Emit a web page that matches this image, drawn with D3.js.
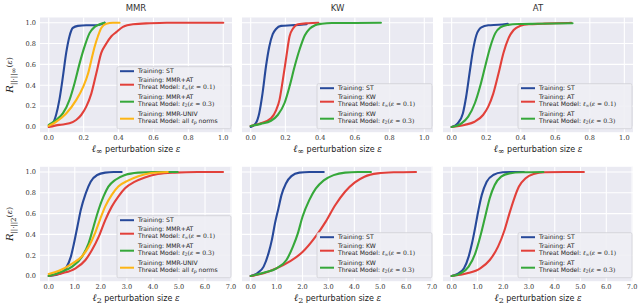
<!DOCTYPE html>
<html>
<head>
<meta charset="utf-8">
<script src="https://cdn.jsdelivr.net/npm/d3@7"></script>
<style>
  body { margin: 0; background: #fff; }
  svg { display: block; }
</style>
</head>
<body>
<svg id="chart" width="640" height="308"></svg>
<script>
// curve points: [epsilon, R]
// top row: l_inf perturbation
const mmrInfST = [[0,0.01],[0.023,0.035],[0.042,0.115],[0.061,0.26],[0.081,0.48],[0.1,0.71],[0.119,0.87],[0.138,0.95],[0.167,0.97],[0.215,0.975],[0.272,0.975],[0.301,0.985],[0.32,1.0]];
const mmrInfAtInf = [[0,0],[0.061,0.02],[0.119,0.035],[0.157,0.067],[0.186,0.115],[0.215,0.195],[0.244,0.32],[0.272,0.51],[0.301,0.71],[0.33,0.8],[0.359,0.87],[0.387,0.91],[0.425,0.96],[0.483,0.985],[0.579,0.995],[0.675,1.0],[1.0,1.0]];
const mmrInfAtL2 = [[0,0.02],[0.042,0.067],[0.081,0.13],[0.119,0.26],[0.148,0.42],[0.177,0.61],[0.205,0.77],[0.234,0.9],[0.263,0.96],[0.292,0.985],[0.32,1.0]];
const mmrInfUniv = [[0,0.01],[0.042,0.05],[0.1,0.13],[0.158,0.26],[0.196,0.38],[0.225,0.51],[0.244,0.64],[0.263,0.77],[0.282,0.87],[0.301,0.95],[0.33,0.99],[0.368,1.0],[0.406,1.0]];

const kwInfST = [[0,0],[0.029,0.035],[0.049,0.13],[0.068,0.32],[0.088,0.58],[0.107,0.77],[0.127,0.89],[0.146,0.94],[0.175,0.97],[0.234,0.975],[0.292,0.98],[0.322,0.985]];
const kwInfKwInf = [[0,0.01],[0.058,0.035],[0.117,0.083],[0.146,0.16],[0.166,0.26],[0.185,0.45],[0.205,0.67],[0.224,0.87],[0.244,0.945],[0.273,0.985],[0.331,0.995],[0.39,1.0]];
const kwInfKwL2 = [[0,0.01],[0.058,0.03],[0.117,0.06],[0.156,0.115],[0.195,0.23],[0.224,0.39],[0.253,0.58],[0.283,0.75],[0.312,0.88],[0.341,0.945],[0.37,0.975],[0.409,0.99],[0.468,0.997],[0.546,0.997],[0.75,1.0]];

const atInfST = [[0,0],[0.035,0.035],[0.065,0.13],[0.084,0.29],[0.104,0.52],[0.124,0.74],[0.143,0.88],[0.172,0.955],[0.212,0.975],[0.271,0.98],[0.325,0.99]];
const atInfAtInf = [[0,0],[0.074,0.02],[0.133,0.05],[0.182,0.115],[0.212,0.195],[0.241,0.32],[0.271,0.51],[0.3,0.71],[0.329,0.85],[0.359,0.93],[0.398,0.97],[0.447,0.985],[0.525,0.99],[0.604,0.995],[0.692,0.998]];
const atInfAtL2 = [[0,0],[0.057,0.035],[0.096,0.1],[0.135,0.23],[0.165,0.39],[0.194,0.58],[0.224,0.77],[0.253,0.9],[0.282,0.955],[0.322,0.978],[0.39,0.987],[0.488,0.99],[0.7,0.995]];

// bottom row: l_2 perturbation
const mmrL2ST = [[0,0],[0.47,0.026],[0.66,0.074],[0.85,0.186],[0.97,0.314],[1.1,0.474],[1.23,0.635],[1.42,0.795],[1.61,0.907],[1.86,0.971],[2.17,0.994],[2.49,1.0],[2.8,1.0]];
const mmrL2AtInf = [[0,0],[0.51,0.026],[1.03,0.074],[1.41,0.154],[1.66,0.25],[1.92,0.378],[2.17,0.538],[2.42,0.667],[2.67,0.763],[2.93,0.843],[3.31,0.907],[3.69,0.948],[4.19,0.98],[4.83,0.994],[5.71,1.0],[6.69,1.0]];
const mmrL2AtL2 = [[0,0],[0.39,0.032],[0.9,0.09],[1.28,0.186],[1.53,0.314],[1.72,0.474],[1.91,0.635],[2.1,0.763],[2.29,0.859],[2.55,0.923],[2.93,0.971],[3.43,0.994],[4.07,1.0],[4.95,1.0]];
const mmrL2Univ = [[0,0.02],[0.39,0.05],[0.9,0.12],[1.28,0.19],[1.53,0.28],[1.79,0.42],[1.98,0.55],[2.17,0.67],[2.42,0.78],[2.67,0.86],[3.06,0.92],[3.44,0.96],[3.94,0.99],[4.57,1.0]];

const kwL2ST = [[0,0],[0.25,0.026],[0.5,0.09],[0.69,0.22],[0.82,0.35],[0.94,0.51],[1.07,0.65],[1.19,0.78],[1.36,0.89],[1.57,0.96],[1.88,0.994],[2.26,1.0],[2.82,1.0]];
const kwL2KwInf = [[0,0],[0.5,0.026],[1.0,0.074],[1.51,0.14],[2.0,0.23],[2.51,0.38],[2.89,0.52],[3.26,0.68],[3.64,0.81],[4.02,0.9],[4.39,0.955],[4.9,0.987],[5.52,0.997],[6.38,1.0]];
const kwL2KwL2 = [[0,0],[0.5,0.032],[1.0,0.074],[1.38,0.154],[1.63,0.282],[1.82,0.41],[2.0,0.57],[2.26,0.73],[2.51,0.84],[2.82,0.92],[3.2,0.97],[3.64,0.994],[4.14,1.0],[4.64,1.0]];

const atL2ST = [[0,0],[0.23,0.02],[0.48,0.074],[0.66,0.186],[0.79,0.314],[0.92,0.474],[1.04,0.635],[1.17,0.78],[1.36,0.907],[1.61,0.971],[1.98,0.997],[2.36,1.0],[2.8,1.0]];
const atL2AtInf = [[0,0],[0.6,0.026],[1.11,0.074],[1.48,0.154],[1.8,0.282],[2.05,0.44],[2.24,0.6],[2.43,0.747],[2.61,0.86],[2.87,0.94],[3.18,0.98],[3.62,0.997],[4.37,1.0],[5.13,1.0]];
const atL2AtL2 = [[0,0],[0.35,0.026],[0.66,0.09],[0.92,0.22],[1.11,0.38],[1.3,0.57],[1.48,0.75],[1.67,0.875],[1.92,0.955],[2.24,0.987],[2.74,0.997],[3.56,1.0]];

const panelTitles = ["MMR", "KW", "AT"];
const yTicks = [0, 0.2, 0.4, 0.6, 0.8, 1.0];
const xTicksInf = [0, 0.2, 0.4, 0.6, 0.8, 1.0];
const xTicksL2 = [0, 1, 2, 3, 4, 5, 6, 7];
const trainNames = ["MMR+AT", "KW", "AT"];

const colors = { st: "#27499a", inf: "#e2403a", l2: "#36a83a", univ: "#fdb515" };

const svg = d3.select("#chart");
const serif = "'DejaVu Serif', serif";
const sans = "'DejaVu Sans', sans-serif";

const colX = [[40, 232], [242, 433], [443, 633]];
const rowY = [[17.5, 132.2], [166.8, 281.2]];

const xInf = colX.map(c => d3.scaleLinear().domain([-0.05, 1.05]).range(c));
const xL2 = colX.map(c => d3.scaleLinear().domain([-0.335, 7.035]).range(c));
const yRow = rowY.map(r => d3.scaleLinear().domain([-0.05, 1.05]).range([r[1], r[0]]));

// series per panel
const panels = [
  { row: 0, col: 0, ticks: xTicksInf, series: [["st", mmrInfST], ["inf", mmrInfAtInf], ["l2", mmrInfAtL2], ["univ", mmrInfUniv]] },
  { row: 0, col: 1, ticks: xTicksInf, series: [["st", kwInfST], ["inf", kwInfKwInf], ["l2", kwInfKwL2]] },
  { row: 0, col: 2, ticks: xTicksInf, series: [["st", atInfST], ["inf", atInfAtInf], ["l2", atInfAtL2]] },
  { row: 1, col: 0, ticks: xTicksL2, series: [["st", mmrL2ST], ["inf", mmrL2AtInf], ["l2", mmrL2AtL2], ["univ", mmrL2Univ]] },
  { row: 1, col: 1, ticks: xTicksL2, series: [["st", kwL2ST], ["inf", kwL2KwInf], ["l2", kwL2KwL2]] },
  { row: 1, col: 2, ticks: xTicksL2, series: [["st", atL2ST], ["inf", atL2AtInf], ["l2", atL2AtL2]] }
];

panels.forEach(p => {
  const x = p.row === 0 ? xInf[p.col] : xL2[p.col];
  const y = yRow[p.row];
  const g = svg.append("g");
  const [x0, x1] = x.range();
  const [yb, yt] = y.range();

  g.append("rect").attr("x", x0).attr("y", yt).attr("width", x1 - x0).attr("height", yb - yt).attr("fill", "#eaeaf2");

  // grid
  g.selectAll(".gx").data(p.ticks).join("line")
    .attr("x1", d => x(d)).attr("x2", d => x(d)).attr("y1", yt).attr("y2", yb)
    .attr("stroke", "#fff").attr("stroke-width", 1.1);
  g.selectAll(".gy").data(yTicks).join("line")
    .attr("y1", d => y(d)).attr("y2", d => y(d)).attr("x1", x0).attr("x2", x1)
    .attr("stroke", "#fff").attr("stroke-width", 1.1);

  // tick labels
  g.selectAll(".tx").data(p.ticks).join("text")
    .attr("x", d => x(d)).attr("y", yb + 8)
    .attr("text-anchor", "middle").attr("font-family", serif).attr("font-size", 6.6).attr("fill", "#333")
    .text(d => d3.format(".1f")(d));
  if (p.col === 0) {
    g.selectAll(".ty").data(yTicks).join("text")
      .attr("x", x0 - 4).attr("y", d => y(d)).attr("dy", "0.35em")
      .attr("text-anchor", "end").attr("font-family", serif).attr("font-size", 6.6).attr("fill", "#333")
      .text(d => d3.format(".1f")(d));
  }

  // curves
  const line = d3.line().x(d => x(d[0])).y(d => y(d[1])).curve(d3.curveMonotoneX);
  p.series.forEach(([k, pts]) => {
    g.append("path").datum(pts).attr("d", line)
      .attr("fill", "none").attr("stroke", colors[k]).attr("stroke-width", 2.1)
      .attr("stroke-linejoin", "round").attr("stroke-linecap", "round");
  });

  // title
  if (p.row === 0) {
    g.append("text").attr("x", (x0 + x1) / 2).attr("y", 11)
      .attr("text-anchor", "middle").attr("font-family", sans).attr("font-size", 8.5).attr("fill", "#333")
      .text(panelTitles[p.col]);
  }

  // x label
  const xl = g.append("text").attr("x", (x0 + x1) / 2).attr("y", yb + 20)
    .attr("text-anchor", "middle").attr("fill", "#222");
  xl.append("tspan").attr("font-family", serif).attr("font-style", "italic").attr("font-size", 10).text("ℓ");
  xl.append("tspan").attr("font-family", serif).attr("font-size", 8).attr("dy", 2).text(p.row === 0 ? "∞" : "2");
  xl.append("tspan").attr("font-family", sans).attr("font-size", 8).attr("dy", -2).text(" perturbation size ");
  xl.append("tspan").attr("font-family", serif).attr("font-style", "italic").attr("font-size", 8.5).text("ε");

  // legend
  const nEntries = p.series.length;
  const lh = nEntries === 4 ? 62 : 45;
  const lx = x0 + (p.col === 0 ? 77 : 75);
  const lBottom = yb - 3.5;
  const lTop = lBottom - lh;
  const lg = g.append("g");
  lg.append("rect").attr("x", lx).attr("y", lTop).attr("width", x1 - lx - 1).attr("height", lh)
    .attr("rx", 1.5).attr("fill", "#eeeef4").attr("fill-opacity", 0.9).attr("stroke", "#cfcfd6").attr("stroke-width", 0.8);

  p.series.forEach(([k], i) => {
    const lineY = i === 0 ? lTop + 4.5 : lTop + 18 + 17 * (i - 1);
    lg.append("line").attr("x1", lx + 3).attr("x2", lx + 17).attr("y1", lineY).attr("y2", lineY)
      .attr("stroke", colors[k]).attr("stroke-width", 2);
    const tx = lx + 21;
    const addText = (yy) => lg.append("text").attr("x", tx).attr("y", yy).attr("dy", "0.35em")
      .attr("font-size", 6.1).attr("fill", "#222").attr("font-family", sans);
    if (k === "st") {
      addText(lineY).text("Training: ST");
    } else {
      const top = lineY - 4.5, bot = lineY + 2.2;
      const name = k === "univ" ? "MMR-UNIV" : trainNames[p.col];
      addText(top).text("Training: " + name);
      const t = addText(bot);
      t.append("tspan").text("Threat Model: ");
      if (k === "univ") {
        t.append("tspan").text("all ");
        t.append("tspan").attr("font-family", serif).attr("font-style", "italic").text("ℓ");
        t.append("tspan").attr("font-family", serif).attr("font-style", "italic").attr("font-size", 4.6).attr("dy", 1).text("p");
        t.append("tspan").attr("dy", -1).text(" norms");
      } else {
        t.append("tspan").attr("font-family", serif).attr("font-style", "italic").text("ℓ");
        t.append("tspan").attr("font-family", serif).attr("font-size", 4.6).attr("dy", 1).text(k === "inf" ? "∞" : "2");
        t.append("tspan").attr("font-family", serif).attr("dy", -1).text("(");
        t.append("tspan").attr("font-family", serif).attr("font-style", "italic").text("ε");
        t.append("tspan").attr("font-family", serif).text(k === "inf" ? " = 0.1)" : " = 0.3)");
      }
    }
  });
});

// y labels
rowY.forEach((r, i) => {
  const cy = (r[0] + r[1]) / 2;
  const t = svg.append("text").attr("transform", `translate(13,${cy}) rotate(-90)`)
    .attr("text-anchor", "middle").attr("fill", "#222").attr("font-family", serif);
  t.append("tspan").attr("font-style", "italic").attr("font-size", 10).text("R");
  t.append("tspan").attr("font-size", 7).attr("dy", 3).text(i === 0 ? "||·||∞" : "||·||2");
  t.append("tspan").attr("font-size", 8).attr("dy", -4).text("(");
  t.append("tspan").attr("font-size", 8).attr("font-style", "italic").text("ε");
  t.append("tspan").attr("font-size", 8).text(")");
});
</script>
</body>
</html>
